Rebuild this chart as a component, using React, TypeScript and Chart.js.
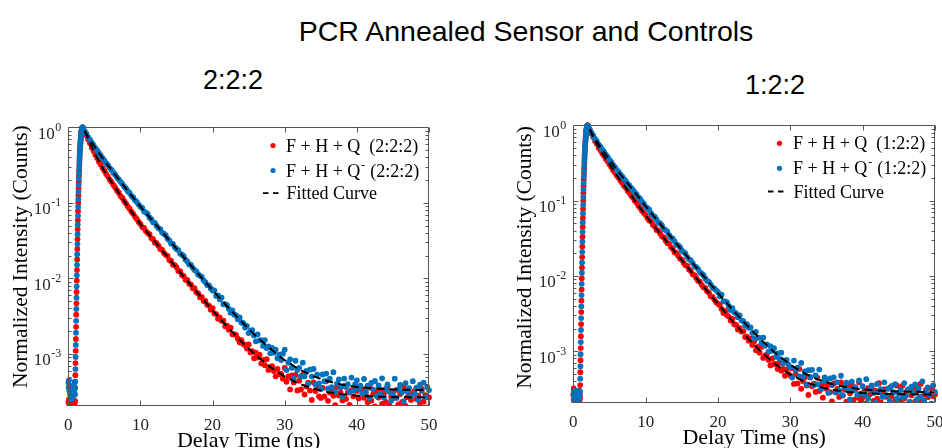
import React, { useEffect, useRef } from "react";
import { Chart, registerables } from "chart.js";

Chart.register(...registerables);

const SERIF = '"Liberation Serif", "Times New Roman", serif';
const SANS = '"Liberation Sans", Arial, sans-serif';
const RED = "#ff0000";
const BLUE = "#0072bd";
const Y_MIN = 2.05e-4;
const Y_MAX = 1;

// ---------- time axes (ns) ----------
const baseTime = [0, 0.05, 0.1, 0.15, 0.2, 0.25, 0.3, 0.35, 0.4, 0.45, 0.5, 0.55, 0.6, 0.65, 0.7, 0.75, 0.8, 0.85, 0.9];
const riseTimeRed = [0.925, 0.95, 0.975, 1.0, 1.025, 1.05, 1.075, 1.1, 1.125, 1.15, 1.175, 1.2, 1.225, 1.25, 1.275, 1.3, 1.325, 1.35, 1.375, 1.4, 1.425, 1.45, 1.475, 1.5, 1.525, 1.55, 1.575, 1.6, 1.625, 1.65, 1.675, 1.7, 1.725, 1.75, 1.775, 1.8, 1.825, 1.85, 1.875, 1.9, 1.925, 1.95, 1.975];
const riseTimeBlue = [0.9375, 0.9625, 0.9875, 1.0125, 1.0375, 1.0625, 1.0875, 1.1125, 1.1375, 1.1625, 1.1875, 1.2125, 1.2375, 1.2625, 1.2875, 1.3125, 1.3375, 1.3625, 1.3875, 1.4125, 1.4375, 1.4625, 1.4875, 1.5125, 1.5375, 1.5625, 1.5875, 1.6125, 1.6375, 1.6625, 1.6875, 1.7125, 1.7375, 1.7625, 1.7875, 1.8125, 1.8375, 1.8625, 1.8875, 1.9125, 1.9375, 1.9625, 1.9875];
// decay channels: 2.00 ns to 50.00 ns, every 0.25 ns
const decayTime = Array.from({ length: 193 }, (_, i) => 2 + i * 0.25);
const fitTime = [2.25, 3, 4, 5, 6, 7, 8, 9, 10, 12, 14, 16, 18, 20, 22, 24, 26, 28, 30, 32, 34, 36, 38, 40, 42, 44, 46, 48, 50];

// ---------- instrument rise (shared shape) ----------
const riseRed = [2.4e-4, 3.55e-4, 5.25e-4, 7.59e-4, 1.1e-3, 1.58e-3, 2.29e-3, 3.31e-3, 4.68e-3, 6.61e-3, 9.33e-3, 0.0129, 0.0178, 0.0245, 0.0331, 0.0447, 0.0589, 0.0776, 0.1, 0.126, 0.155, 0.191, 0.229, 0.269, 0.316, 0.363, 0.412, 0.462, 0.513, 0.562, 0.617, 0.661, 0.708, 0.759, 0.804, 0.841, 0.881, 0.912, 0.94, 0.964, 0.982, 0.993, 0.998];
const riseBlue = [2.92e-4, 4.31e-4, 6.31e-4, 9.12e-4, 1.32e-3, 1.91e-3, 2.75e-3, 3.94e-3, 5.56e-3, 7.85e-3, 0.011, 0.0151, 0.0209, 0.0285, 0.0385, 0.0513, 0.0676, 0.0881, 0.112, 0.14, 0.172, 0.209, 0.248, 0.292, 0.339, 0.387, 0.437, 0.487, 0.537, 0.589, 0.638, 0.684, 0.733, 0.781, 0.822, 0.861, 0.897, 0.926, 0.952, 0.973, 0.987, 0.995, 0.999];

// ---------- panel 2:2:2 ----------
const baseRed222 = [2.3e-4, 1.9e-4, 2.5e-4, 2.1e-4, 2.2e-4, 1.95e-4, 2.4e-4, 2.05e-4, 2.15e-4, 1.85e-4, 2.35e-4, 2.0e-4, 2.2e-4, 2.1e-4, 2.45e-4, 1.9e-4, 2.25e-4, 2.1e-4, 2.3e-4];
const baseBlue222 = [4.2e-4, 3.6e-4, 4.5e-4, 3.3e-4, 3.8e-4, 2.9e-4, 3.1e-4, 2.6e-4, 2.9e-4, 2.5e-4, 2.8e-4, 2.6e-4, 3.0e-4, 2.7e-4, 3.2e-4, 3.5e-4, 3.9e-4, 3.4e-4, 4.3e-4];
const decayRed222 = [
  1.0, 0.889, 0.787, 0.69, 0.614, 0.541, 0.486, 0.433,
  0.393, 0.351, 0.322, 0.289, 0.266, 0.241, 0.223, 0.203,
  0.189, 0.172, 0.16, 0.146, 0.136, 0.123, 0.116, 0.105,
  0.0983, 0.0897, 0.0839, 0.0765, 0.0715, 0.0654, 0.0612, 0.0558,
  0.0527, 0.0478, 0.0465, 0.0423, 0.0399, 0.0385, 0.0342, 0.033,
  0.0297, 0.0292, 0.027, 0.0245, 0.0239, 0.0217, 0.0205, 0.0198,
  0.0176, 0.017, 0.0152, 0.015, 0.0141, 0.0125, 0.0125, 0.0111,
  0.0107, 0.00961, 0.00955, 0.00851, 0.0083, 0.0074, 0.00743, 0.00657,
  0.00634, 0.00565, 0.00569, 0.00502, 0.00505, 0.00448, 0.00437, 0.00386,
  4.04e-3, 3.44e-3, 3.37e-3, 2.92e-3, 3.06e-3, 2.75e-3, 2.76e-3, 2.33e-3,
  2.37e-3, 2.1e-3, 2.23e-3, 1.82e-3, 1.83e-3, 1.79e-3, 1.59e-3, 1.43e-3,
  1.53e-3, 1.36e-3, 1.32e-3, 1.18e-3, 1.34e-3, 1.05e-3, 1.09e-3, 8.79e-4,
  1.04e-3, 8.99e-4, 9.78e-4, 7.51e-4, 8.37e-4, 7.1e-4, 8.54e-4, 6.16e-4,
  6.71e-4, 6.9e-4, 5.95e-4, 5.07e-4, 6.33e-4, 5.38e-4, 5.47e-4, 4.72e-4,
  6.53e-4, 4.29e-4, 5.05e-4, 3.4e-4, 5.22e-4, 4.21e-4, 5.29e-4, 3.3e-4,
  4.43e-4, 3.39e-4, 5.33e-4, 2.91e-4, 3.71e-4, 4.19e-4, 3.28e-4, 2.46e-4,
  4.22e-4, 3.24e-4, 3.53e-4, 2.75e-4, 2.62e-4, 3.55e-4, 2.74e-4, 4.35e-4,
  2.4e-4, 3.09e-4, 3.52e-4, 2.8e-4, 2.11e-4, 3.65e-4, 2.82e-4, 3.09e-4,
  2.43e-4, 3.78e-4, 2.54e-4, 3.08e-4, 2.12e-4, 3.33e-4, 2.75e-4, 3.53e-4,
  3.23e-4, 2.58e-4, 1.95e-4, 3.39e-4, 2.63e-4, 2.91e-4, 2.29e-4, 3.58e-4,
  2.41e-4, 2.93e-4, 2.03e-4, 3.19e-4, 2.65e-4, 3.4e-4, 2.18e-4, 2.99e-4,
  2.33e-4, 3.74e-4, 2.09e-4, 2.7e-4, 3.16e-4, 2.62e-4, 3.36e-4, 2.15e-4,
  2.96e-4, 2.31e-4, 3.7e-4, 2.06e-4, 2.68e-4, 3.08e-4, 2.47e-4, 1.87e-4,
  3.26e-4, 2.54e-4, 2.8e-4, 2.22e-4, 3.46e-4, 2.34e-4, 2.85e-4, 1.97e-4,
  2.66e-4,
];
const decayBlue222 = [
  1.0, 0.898, 0.822, 0.743, 0.688, 0.627, 0.581, 0.53,
  0.496, 0.454, 0.425, 0.39, 0.365, 0.335, 0.315, 0.289,
  0.273, 0.251, 0.236, 0.218, 0.205, 0.189, 0.178, 0.164,
  0.155, 0.143, 0.135, 0.124, 0.118, 0.108, 0.103, 0.095,
  0.0885, 0.0855, 0.077, 0.0744, 0.0712, 0.0642, 0.0607, 0.0552,
  0.0545, 0.0496, 0.0464, 0.0449, 0.0405, 0.0391, 0.0374, 0.0337,
  0.0319, 0.029, 0.0287, 0.026, 0.0245, 0.0237, 0.0213, 0.0206,
  0.0197, 0.0177, 0.0168, 0.0153, 0.0151, 0.0138, 0.0129, 0.0124,
  0.0113, 0.0109, 0.0105, 0.00943, 0.00896, 0.00817, 0.00807, 0.00736,
  6.92e-3, 6.96e-3, 5.87e-3, 5.96e-3, 5.28e-3, 5.58e-3, 4.55e-3, 4.56e-3,
  4.44e-3, 3.96e-3, 3.52e-3, 3.77e-3, 3.34e-3, 3.23e-3, 2.88e-3, 3.05e-3,
  2.61e-3, 2.58e-3, 2.24e-3, 2.36e-3, 1.89e-3, 2.04e-3, 2.07e-3, 1.76e-3,
  1.47e-3, 1.82e-3, 1.51e-3, 1.52e-3, 1.28e-3, 1.53e-3, 1.2e-3, 1.26e-3,
  1.02e-3, 1.2e-3, 1.04e-3, 1.14e-3, 8.78e-4, 9.81e-4, 8.33e-4, 1.01e-3,
  1.14e-3, 6.13e-4, 7.67e-4, 8.51e-4, 6.57e-4, 4.83e-4, 8.14e-4, 6.14e-4,
  6.57e-4, 5.05e-4, 7.67e-4, 5.05e-4, 5.98e-4, 4.03e-4, 6.21e-4, 5.02e-4,
  6.33e-4, 3.96e-4, 5.34e-4, 4.09e-4, 3.45e-4, 5.35e-4, 4.36e-4, 5.51e-4,
  3.48e-4, 4.71e-4, 3.63e-4, 5.74e-4, 3.16e-4, 4.06e-4, 4.61e-4, 3.64e-4,
  2.74e-4, 4.73e-4, 3.66e-4, 4.0e-4, 3.14e-4, 4.88e-4, 3.27e-4, 3.96e-4,
  4.48e-4, 3.47e-4, 3.81e-4, 3.0e-4, 4.67e-4, 3.14e-4, 3.81e-4, 2.62e-4,
  4.13e-4, 3.41e-4, 4.39e-4, 2.79e-4, 3.83e-4, 2.98e-4, 4.77e-4, 2.66e-4,
  3.45e-4, 3.96e-4, 3.16e-4, 2.4e-4, 2.94e-4, 4.71e-4, 2.62e-4, 3.4e-4,
  3.9e-4, 3.12e-4, 2.37e-4, 4.12e-4, 3.2e-4, 3.54e-4, 2.79e-4, 4.37e-4,
  2.96e-4, 3.58e-4, 2.48e-4, 3.92e-4, 3.25e-4, 4.18e-4, 2.67e-4, 3.67e-4,
  3.33e-4,
];
const fitRed222 = [0.891, 0.612, 0.391, 0.265, 0.188, 0.135, 0.0977, 0.0711, 0.0522, 0.0306, 0.018, 0.0106, 0.00628, 0.00378, 0.00232, 0.00146, 9.62e-4, 6.71e-4, 5.02e-4, 4.03e-4, 3.46e-4, 3.12e-4, 2.93e-4, 2.81e-4, 2.74e-4, 2.71e-4, 2.68e-4, 2.67e-4, 2.66e-4];
const fitBlue222 = [0.902, 0.684, 0.493, 0.363, 0.271, 0.204, 0.154, 0.117, 0.0894, 0.0534, 0.0319, 0.0191, 0.0115, 0.00699, 0.00429, 0.00269, 0.00173, 0.00117, 8.28e-4, 6.26e-4, 5.06e-4, 4.35e-4, 3.92e-4, 3.67e-4, 3.52e-4, 3.43e-4, 3.38e-4, 3.35e-4, 3.33e-4];

// ---------- panel 1:2:2 ----------
const baseRed122 = [2.6e-4, 3.2e-4, 2.2e-4, 2.9e-4, 2.1e-4, 2.4e-4, 1.95e-4, 2.7e-4, 2.2e-4, 2.5e-4, 2.0e-4, 2.3e-4, 2.8e-4, 2.1e-4, 2.4e-4, 2.0e-4, 3.0e-4, 2.2e-4, 2.6e-4];
const baseBlue122 = [2.7e-4, 2.3e-4, 2.9e-4, 2.5e-4, 2.8e-4, 2.4e-4, 2.6e-4, 3.0e-4, 2.3e-4, 2.7e-4, 2.5e-4, 2.9e-4, 2.4e-4, 2.6e-4, 2.8e-4, 2.3e-4, 2.7e-4, 2.5e-4, 2.8e-4];
const decayRed122 = [
  1.0, 0.882, 0.776, 0.7, 0.621, 0.567, 0.504, 0.468,
  0.423, 0.393, 0.357, 0.332, 0.301, 0.28, 0.253, 0.236,
  0.215, 0.202, 0.185, 0.173, 0.158, 0.149, 0.135, 0.127,
  0.116, 0.109, 0.0995, 0.0934, 0.0854, 0.08, 0.0732, 0.0686,
  0.0647, 0.0586, 0.0542, 0.0531, 0.0477, 0.0455, 0.0407, 0.04,
  0.0366, 0.0335, 0.0325, 0.0295, 0.0272, 0.0268, 0.0241, 0.0229,
  0.0206, 0.0202, 0.0185, 0.017, 0.0164, 0.0149, 0.0138, 0.0136,
  0.0122, 0.0116, 0.0105, 0.0102, 0.00939, 0.0086, 0.00837, 0.0076,
  0.00705, 0.00693, 0.00624, 0.00595, 0.00535, 0.00527, 0.00484, 0.00445,
  4.25e-3, 4.11e-3, 3.64e-3, 3.21e-3, 3.42e-3, 3.0e-3, 2.88e-3, 2.55e-3,
  2.68e-3, 2.28e-3, 2.24e-3, 1.94e-3, 2.02e-3, 1.82e-3, 1.83e-3, 1.54e-3,
  1.56e-3, 1.38e-3, 1.47e-3, 1.21e-3, 1.36e-3, 1.03e-3, 1.14e-3, 9.55e-4,
  1.14e-3, 8.14e-4, 8.79e-4, 8.96e-4, 7.65e-4, 6.46e-4, 7.99e-4, 6.73e-4,
  6.77e-4, 5.79e-4, 6.95e-4, 5.51e-4, 5.81e-4, 4.72e-4, 5.66e-4, 4.96e-4,
  4.74e-4, 5.93e-4, 3.67e-4, 4.91e-4, 3.72e-4, 5.82e-4, 3.16e-4, 4.01e-4,
  4.5e-4, 3.51e-4, 2.62e-4, 4.48e-4, 3.42e-4, 3.71e-4, 2.88e-4, 4.43e-4,
  2.96e-4, 3.54e-4, 2.41e-4, 3.77e-4, 3.18e-4, 3.62e-4, 2.86e-4, 2.16e-4,
  3.72e-4, 2.87e-4, 3.15e-4, 2.47e-4, 3.84e-4, 2.58e-4, 3.11e-4, 2.14e-4,
  3.36e-4, 2.77e-4, 3.55e-4, 2.26e-4, 3.1e-4, 2.42e-4, 3.86e-4, 2.15e-4,
  2.45e-4, 2.96e-4, 2.04e-4, 3.22e-4, 2.67e-4, 3.43e-4, 2.18e-4, 3.0e-4,
  2.34e-4, 3.75e-4, 2.09e-4, 2.71e-4, 3.11e-4, 2.48e-4, 1.89e-4, 3.28e-4,
  2.56e-4, 2.82e-4, 2.23e-4, 3.48e-4, 2.81e-4, 2.22e-4, 3.47e-4, 2.35e-4,
  2.86e-4, 1.98e-4, 3.12e-4, 2.59e-4, 3.33e-4, 2.13e-4, 2.93e-4, 2.29e-4,
  3.67e-4, 2.05e-4, 2.66e-4, 3.06e-4, 2.45e-4, 1.86e-4, 3.23e-4, 2.52e-4,
  2.65e-4,
];
const decayBlue122 = [
  1.0, 0.897, 0.804, 0.734, 0.664, 0.614, 0.558, 0.521,
  0.476, 0.446, 0.407, 0.38, 0.348, 0.326, 0.297, 0.279,
  0.255, 0.241, 0.223, 0.21, 0.194, 0.183, 0.168, 0.159,
  0.147, 0.139, 0.128, 0.121, 0.111, 0.105, 0.0968, 0.0911,
  0.0824, 0.0794, 0.0757, 0.068, 0.063, 0.0613, 0.0562, 0.0509,
  0.0496, 0.0468, 0.0421, 0.0406, 0.0387, 0.0347, 0.0322, 0.0313,
  0.0288, 0.0261, 0.0255, 0.024, 0.0216, 0.0208, 0.0199, 0.0178,
  0.0166, 0.0161, 0.0148, 0.0134, 0.0131, 0.0123, 0.0112, 0.0107,
  0.0102, 0.00923, 0.00856, 0.00834, 0.00766, 0.00696, 0.0068, 0.00644,
  6.06e-3, 5.35e-3, 5.65e-3, 4.59e-3, 4.59e-3, 4.46e-3, 3.95e-3, 3.51e-3,
  3.74e-3, 3.29e-3, 3.18e-3, 2.83e-3, 2.98e-3, 2.55e-3, 2.51e-3, 2.17e-3,
  2.28e-3, 2.05e-3, 2.07e-3, 1.75e-3, 1.48e-3, 1.81e-3, 1.51e-3, 1.5e-3,
  1.27e-3, 1.51e-3, 1.18e-3, 1.23e-3, 9.87e-4, 1.17e-3, 1.01e-3, 1.1e-3,
  8.41e-4, 9.36e-4, 7.92e-4, 9.54e-4, 6.86e-4, 7.48e-4, 7.68e-4, 6.61e-4,
  6.1e-4, 4.47e-4, 7.5e-4, 5.64e-4, 6.03e-4, 4.61e-4, 6.98e-4, 4.58e-4,
  5.4e-4, 3.63e-4, 5.59e-4, 4.51e-4, 5.66e-4, 3.54e-4, 4.75e-4, 3.63e-4,
  5.7e-4, 3.12e-4, 3.97e-4, 4.49e-4, 4.1e-4, 2.79e-4, 4.34e-4, 3.54e-4,
  4.5e-4, 2.84e-4, 3.86e-4, 2.98e-4, 4.72e-4, 2.61e-4, 3.35e-4, 3.82e-4,
  3.03e-4, 2.28e-4, 3.94e-4, 3.05e-4, 3.34e-4, 2.62e-4, 4.08e-4, 2.75e-4,
  3.42e-4, 2.66e-4, 4.25e-4, 2.36e-4, 3.05e-4, 3.5e-4, 2.79e-4, 2.11e-4,
  3.67e-4, 2.85e-4, 3.14e-4, 2.47e-4, 3.86e-4, 2.61e-4, 3.17e-4, 2.18e-4,
  3.45e-4, 2.85e-4, 3.66e-4, 2.34e-4, 2.77e-4, 3.06e-4, 2.42e-4, 3.77e-4,
  2.55e-4, 3.1e-4, 2.14e-4, 3.38e-4, 2.8e-4, 3.61e-4, 2.3e-4, 3.17e-4,
  2.48e-4, 3.97e-4, 2.22e-4, 2.87e-4, 3.3e-4, 2.64e-4, 2.01e-4, 3.5e-4,
  2.87e-4,
];
const fitRed122 = [0.879, 0.625, 0.426, 0.303, 0.217, 0.159, 0.117, 0.0859, 0.0634, 0.0366, 0.0212, 0.0123, 0.00719, 0.00425, 0.00251, 0.00153, 9.74e-4, 6.64e-4, 4.89e-4, 3.91e-4, 3.36e-4, 3.05e-4, 2.87e-4, 2.78e-4, 2.73e-4, 2.7e-4, 2.68e-4, 2.66e-4, 2.65e-4];
const fitBlue122 = [0.895, 0.667, 0.479, 0.35, 0.257, 0.195, 0.148, 0.112, 0.0841, 0.0491, 0.0288, 0.0169, 0.00995, 0.00592, 0.00357, 0.0022, 0.0014, 9.34e-4, 6.63e-4, 5.05e-4, 4.13e-4, 3.6e-4, 3.29e-4, 3.11e-4, 3.0e-4, 2.94e-4, 2.9e-4, 2.88e-4, 2.87e-4];

const xTicks = [0, 10, 20, 30, 40, 50];
const yDecades = [-3, -2, -1, 0];

// ---------- layout ----------
type Panel = {
  tag: string;
  area: { left: number; top: number; right: number; bottom: number };
  baseRed: number[]; baseBlue: number[];
  decayRed: number[]; decayBlue: number[];
  fitRed: number[]; fitBlue: number[];
  legend: { dotX: number; textX: number; dashX: number; rows: number[] };
  yTitle: { x: number; y: number };
};

const PANELS: Panel[] = [
  {
    tag: "2:2:2",
    area: { left: 68.3, top: 127.3, right: 429, bottom: 406 },
    baseRed: baseRed222, baseBlue: baseBlue222,
    decayRed: decayRed222, decayBlue: decayBlue222,
    fitRed: fitRed222, fitBlue: fitBlue222,
    legend: { dotX: 273, textX: 286, dashX: 263, rows: [145.5, 170.5, 193.2] },
    yTitle: { x: 27, y: 256.7 },
  },
  {
    tag: "1:2:2",
    area: { left: 573.3, top: 125.3, right: 935, bottom: 403 },
    baseRed: baseRed122, baseBlue: baseBlue122,
    decayRed: decayRed122, decayBlue: decayBlue122,
    fitRed: fitRed122, fitBlue: fitBlue122,
    legend: { dotX: 779.5, textX: 793, dashX: 768, rows: [143.3, 168.3, 191.5] },
    yTitle: { x: 531, y: 257.5 },
  },
];

const pts = (xs: number[], ys: number[]) => ys.map((y, i) => ({ x: xs[i], y }));

function axesPlugin(p: Panel) {
  return {
    id: "matlabAxes" + p.tag,
    afterDatasetsDraw(chart: any) {
      const { ctx, chartArea: a } = chart;
      const xs = chart.scales.x;
      const ys = chart.scales.y;
      const L = Math.round(a.left) + 0.5;
      const R = Math.round(a.right) - 0.5;
      const T = Math.round(a.top) + 0.5;
      const B = Math.round(a.bottom) - 0.5;
      ctx.save();
      ctx.strokeStyle = "#555";
      ctx.lineWidth = 1;
      ctx.beginPath();
      ctx.rect(L, T, R - L, B - T);
      for (const t of xTicks) {
        const px = Math.round(xs.getPixelForValue(t)) + 0.5;
        ctx.moveTo(px, B); ctx.lineTo(px, B - 5);
        ctx.moveTo(px, T); ctx.lineTo(px, T + 5);
      }
      for (let e = -4; e <= 0; e++) {
        for (let k = 1; k <= 9; k++) {
          const v = k * Math.pow(10, e);
          if (v < Y_MIN || v > Y_MAX * 1.0001) continue;
          const py = Math.round(ys.getPixelForValue(v)) + 0.5;
          const len = k === 1 ? 5 : 3;
          ctx.moveTo(L, py); ctx.lineTo(L + len, py);
          ctx.moveTo(R, py); ctx.lineTo(R - len, py);
        }
      }
      ctx.stroke();
      ctx.restore();
    },
    afterDraw(chart: any) {
      const { ctx, chartArea: a } = chart;
      const xs = chart.scales.x;
      const ys = chart.scales.y;
      ctx.save();
      ctx.fillStyle = "#262626";
      ctx.textBaseline = "alphabetic";
      ctx.font = `17px ${SERIF}`;
      ctx.textAlign = "center";
      for (const t of xTicks) {
        ctx.fillText(String(t), xs.getPixelForValue(t), a.bottom + 23.5);
      }
      ctx.textAlign = "left";
      for (const e of yDecades) {
        const py = ys.getPixelForValue(Math.pow(10, e));
        const exp = e === 0 ? "0" : "-" + String(-e);
        ctx.font = `17px ${SERIF}`;
        const wb = ctx.measureText("10").width;
        ctx.font = `12px ${SERIF}`;
        const we = ctx.measureText(exp).width;
        const x0 = a.left - 7 - we - wb - 0.5;
        ctx.font = `17px ${SERIF}`;
        ctx.fillText("10", x0, py + 11.5);
        ctx.font = `12px ${SERIF}`;
        ctx.fillText(exp, x0 + wb + 0.5, py + 3.5);
      }
      ctx.fillStyle = "#000";
      ctx.font = `22px ${SERIF}`;
      ctx.textAlign = "center";
      ctx.fillText("Delay Time (ns)", (a.left + a.right) / 2, a.bottom + 40.5);
      ctx.save();
      ctx.translate(p.yTitle.x, p.yTitle.y);
      ctx.rotate(-Math.PI / 2);
      ctx.font = `21.5px ${SERIF}`;
      ctx.fillText("Normalized Intensity (Counts)", 0, 0);
      ctx.restore();

      const lg = p.legend;
      ctx.textAlign = "left";
      ctx.font = `18px ${SERIF}`;
      const row1 = `F + H + Q  (${p.tag})`;
      const prefix = "F + H + Q";
      const wPrefix = ctx.measureText(prefix).width;
      const wParen = ctx.measureText("F + H + Q  ").width;
      ctx.fillStyle = RED;
      ctx.beginPath(); ctx.arc(lg.dotX, lg.rows[0], 2.6, 0, Math.PI * 2); ctx.fill();
      ctx.fillStyle = "#000";
      ctx.fillText(row1, lg.textX, lg.rows[0] + 6);
      ctx.fillStyle = BLUE;
      ctx.beginPath(); ctx.arc(lg.dotX, lg.rows[1], 2.6, 0, Math.PI * 2); ctx.fill();
      ctx.fillStyle = "#000";
      ctx.fillText(prefix, lg.textX, lg.rows[1] + 6);
      ctx.fillText(`(${p.tag})`, lg.textX + wParen + 1, lg.rows[1] + 6);
      ctx.font = `12px ${SERIF}`;
      ctx.fillText("-", lg.textX + wPrefix + 1, lg.rows[1] - 2);
      ctx.strokeStyle = "#000";
      ctx.lineWidth = 1.8;
      ctx.beginPath();
      ctx.moveTo(lg.dashX, lg.rows[2]); ctx.lineTo(lg.dashX + 5.5, lg.rows[2]);
      ctx.moveTo(lg.dashX + 10, lg.rows[2]); ctx.lineTo(lg.dashX + 15.5, lg.rows[2]);
      ctx.stroke();
      ctx.font = `18px ${SERIF}`;
      ctx.fillText("Fitted Curve", lg.textX + 0.5, lg.rows[2] + 6);
      ctx.restore();
    },
  };
}

function buildConfig(p: Panel): any {
  const redData = [...pts(baseTime, p.baseRed), ...pts(riseTimeRed, riseRed), ...pts(decayTime, p.decayRed)];
  const blueData = [...pts(baseTime, p.baseBlue), ...pts(riseTimeBlue, riseBlue), ...pts(decayTime, p.decayBlue)];
  const clip = { left: 3, top: 3, right: 3, bottom: 0 };
  const fitStyle = {
    showLine: true, borderColor: "#000", borderWidth: 2, borderDash: [8, 5],
    pointRadius: 0, fill: false, order: 0,
  };
  const dotStyle = (c: string, order: number) => ({
    showLine: false, pointRadius: 2.9, pointBorderWidth: 0,
    pointBackgroundColor: c, pointBorderColor: c, backgroundColor: c, order, clip,
  });
  return {
    type: "scatter",
    data: {
      datasets: [
        { label: "Fitted Curve", data: pts(fitTime, p.fitRed), ...fitStyle },
        { label: "Fitted Curve ", data: pts(fitTime, p.fitBlue), ...fitStyle },
        { label: `F + H + Q- (${p.tag})`, data: blueData, ...dotStyle(BLUE, 1) },
        { label: `F + H + Q (${p.tag})`, data: redData, ...dotStyle(RED, 2) },
      ],
    },
    options: {
      animation: false,
      responsive: false,
      devicePixelRatio: 1,
      events: [],
      layout: {
        padding: { left: p.area.left, top: p.area.top, right: 942 - p.area.right, bottom: 448 - p.area.bottom },
      },
      plugins: { legend: { display: false }, tooltip: { enabled: false }, title: { display: false } },
      scales: {
        x: { type: "linear", min: 0, max: 50, display: false },
        y: { type: "logarithmic", min: Y_MIN, max: Y_MAX, display: false },
      },
    },
    plugins: [axesPlugin(p)],
  };
}

const headStyle = (cx: number, baseline: number, size: number): React.CSSProperties => ({
  position: "absolute",
  left: cx,
  top: baseline - 0.8465 * size,
  transform: "translateX(-50%)",
  font: `${size}px ${SANS}`,
  lineHeight: `${size}px`,
  whiteSpace: "nowrap",
  color: "#000",
});

const canvasStyle: React.CSSProperties = { position: "absolute", left: 0, top: 0, width: 942, height: 448 };

export default function App() {
  const leftRef = useRef<HTMLCanvasElement>(null);
  const rightRef = useRef<HTMLCanvasElement>(null);
  useEffect(() => {
    const c1 = new Chart(leftRef.current as HTMLCanvasElement, buildConfig(PANELS[0]));
    const c2 = new Chart(rightRef.current as HTMLCanvasElement, buildConfig(PANELS[1]));
    return () => {
      c1.destroy();
      c2.destroy();
    };
  }, []);
  return (
    <div style={{ position: "absolute", left: 0, top: 0, width: 942, height: 448, background: "#fff", overflow: "hidden" }}>
      <div style={headStyle(526, 41, 28.5)}>PCR Annealed Sensor and Controls</div>
      <div style={headStyle(233, 90, 27)}>2:2:2</div>
      <div style={headStyle(775, 95, 27)}>1:2:2</div>
      <canvas ref={leftRef} width={942} height={448} style={canvasStyle} />
      <canvas ref={rightRef} width={942} height={448} style={canvasStyle} />
    </div>
  );
}
